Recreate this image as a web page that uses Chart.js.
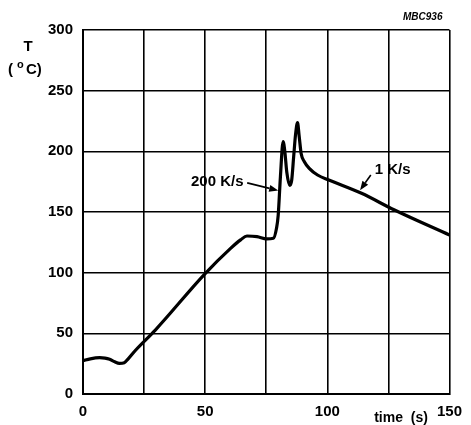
<!DOCTYPE html>
<html>
<head>
<meta charset="utf-8">
<script src="https://cdn.jsdelivr.net/npm/chart.js@4"></script>
<style>
  html, body { margin: 0; padding: 0; background: #fff; }
  #wrap { width: 471px; height: 425px; }
</style>
</head>
<body>
<div id="wrap"><canvas id="reflow" width="471" height="425"></canvas></div>
<script>
// reflow soldering profile
const timeS = [0, 3, 6.8, 9, 10.9, 13, 14.9, 16.9, 18.5, 21.6, 29.6, 49.7, 60.4, 64.5, 67.1, 71.2, 75.2, 77.9, 79.2, 79.9, 80.8, 81.9, 82.6, 83.4, 84.6, 85.4, 86.2, 87, 87.8, 88.5, 89.3, 90.6, 92.6, 96, 100.6, 114, 127.5, 150];
const tempC = [27.4, 29, 29.9, 29.6, 28.6, 26.5, 25.3, 25.8, 29, 36.3, 52.7, 98.6, 120, 127, 130.2, 129.7, 127.8, 128.3, 136.6, 147.5, 179, 208, 200, 183, 172, 176, 195, 214, 223.6, 212, 198, 191.5, 186, 180.5, 176.4, 165.4, 151.6, 131];
const xTicks = [0, 50, 100, 150];
const yTicks = [0, 50, 100, 150, 200, 250, 300];

// annotation labels: [text, textX, textY, arrowFromX, arrowFromY, arrowToX, arrowToY]
const notes = [
  ['200 K/s', 44.2, 174.5, 67.2, 174, 79.9, 167.7],
  ['1 K/s', 119.4, 184.5, 117.8, 180.5, 113.4, 168]
];

const FONT = '"Liberation Sans", Arial, Helvetica, sans-serif';

function arrow(ctx, x1, y1, x2, y2) {
  const a = Math.atan2(y2 - y1, x2 - x1), L = 9, W = 3.5;
  ctx.beginPath(); ctx.moveTo(x1, y1); ctx.lineTo(x2 - L * Math.cos(a), y2 - L * Math.sin(a)); ctx.stroke();
  ctx.beginPath();
  ctx.moveTo(x2, y2);
  ctx.lineTo(x2 - L * Math.cos(a) + W * Math.sin(a), y2 - L * Math.sin(a) - W * Math.cos(a));
  ctx.lineTo(x2 - L * Math.cos(a) - W * Math.sin(a), y2 - L * Math.sin(a) + W * Math.cos(a));
  ctx.closePath(); ctx.fill();
}

const extras = {
  id: 'extras',
  afterDatasetsDraw(chart) {
    const { ctx, chartArea: ca, scales: { x, y } } = chart;
    ctx.save();
    ctx.fillStyle = '#000'; ctx.strokeStyle = '#000';
    // annotations
    ctx.font = 'bold 15px ' + FONT; ctx.textBaseline = 'middle'; ctx.textAlign = 'left';
    ctx.lineWidth = 1.6;
    notes.forEach(n => {
      ctx.fillText(n[0], x.getPixelForValue(n[1]), y.getPixelForValue(n[2]));
      arrow(ctx, x.getPixelForValue(n[3]), y.getPixelForValue(n[4]), x.getPixelForValue(n[5]), y.getPixelForValue(n[6]));
    });
    // y title  T (oC)
    ctx.textAlign = 'center'; ctx.font = 'bold 15px ' + FONT;
    ctx.fillText('T', 28, ca.top + 17);
    ctx.textAlign = 'left';
    ctx.fillText('(', 8, ca.top + 40);
    ctx.font = 'bold 11px ' + FONT;
    ctx.fillText('o', 17, ca.top + 35);
    ctx.font = 'bold 15px ' + FONT;
    ctx.fillText('C)', 26, ca.top + 40);
    // x title
    ctx.textAlign = 'center'; ctx.font = 'bold 14px ' + FONT;
    ctx.fillText('time  (s)', 401, ca.bottom + 24);
    // figure code
    ctx.textAlign = 'right'; ctx.font = 'italic bold 10px ' + FONT;
    ctx.fillText('MBC936', ca.right - 7, ca.top - 13);
    ctx.restore();
  }
};

new Chart(document.getElementById('reflow'), {
  type: 'line',
  data: {
    datasets: [{
      data: timeS.map((t, i) => ({ x: t, y: tempC[i] })),
      borderColor: '#000',
      borderWidth: 3.2,
      pointRadius: 0,
      cubicInterpolationMode: 'monotone',
      fill: false
    }]
  },
  options: {
    responsive: false,
    animation: false,
    layout: { padding: { left: 0, top: 30, right: 15, bottom: 0 } },
    plugins: { legend: { display: false }, tooltip: { enabled: false } },
    scales: {
      x: {
        type: 'linear', min: 0, max: 150,
        afterFit: s => { s.height = 31; },
        afterBuildTicks: s => { s.ticks = [0, 25, 50, 75, 100, 125, 150].map(v => ({ value: v })); },
        ticks: {
          autoSkip: false, maxRotation: 0, padding: 9, color: '#000',
          font: { family: FONT, size: 15, weight: 'bold' },
          callback: v => xTicks.includes(v) ? String(v) : ''
        },
        grid: { color: '#000', lineWidth: 1.6, drawTicks: false },
        border: { color: '#000', width: 2 }
      },
      y: {
        min: 0, max: 300,
        afterFit: s => { s.width = 83; },
        afterBuildTicks: s => { s.ticks = yTicks.map(v => ({ value: v })); },
        ticks: {
          padding: 10, color: '#000',
          font: { family: FONT, size: 15, weight: 'bold' }
        },
        grid: { color: '#000', lineWidth: 1.6, drawTicks: false },
        border: { color: '#000', width: 2 }
      }
    }
  },
  plugins: [extras]
});
</script>
</body>
</html>
